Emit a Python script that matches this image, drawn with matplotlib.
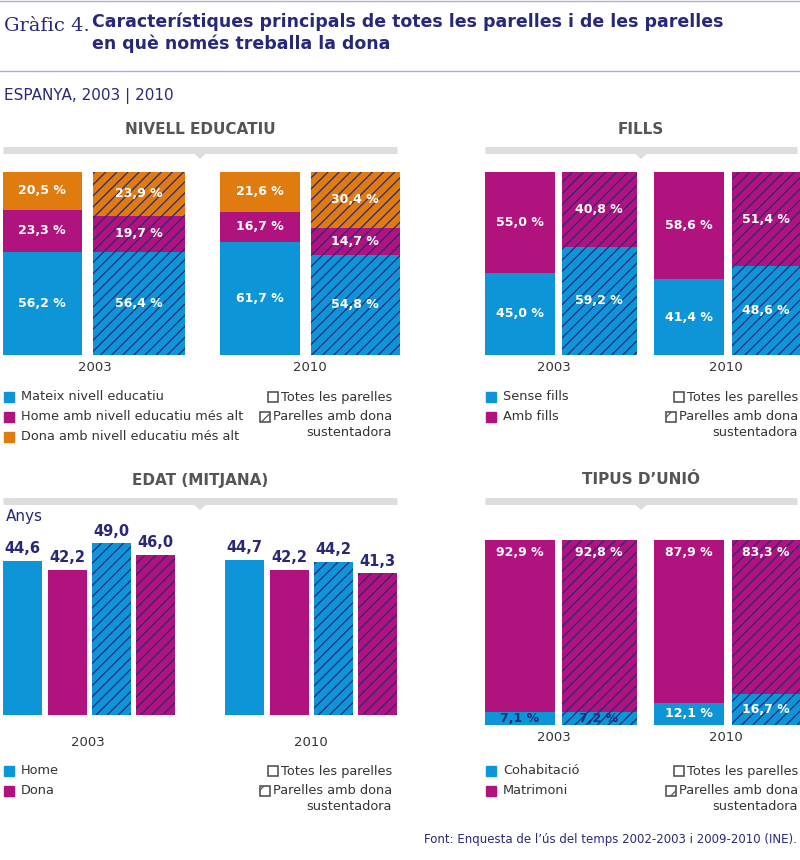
import numpy as np
import matplotlib.pyplot as plt
from matplotlib.patches import Rectangle, Polygon

BLUE = '#0e95d8'
MAG = '#b1137e'
ORA = '#e07b10'
NAVY = '#28287a'
GREY = '#555555'

# data
years = ['2003', '2010']
edu_same = [56.2, 56.4, 61.7, 54.8]
edu_man = [23.3, 19.7, 16.7, 14.7]
edu_woman = [20.5, 23.9, 21.6, 30.4]
fills_no = [45.0, 59.2, 41.4, 48.6]
fills_yes = [55.0, 40.8, 58.6, 51.4]
age_home = [44.6, 49.0, 44.7, 44.2]
age_dona = [42.2, 46.0, 42.2, 41.3]
coh = [7.1, 7.2, 12.1, 16.7]
mat = [92.9, 92.8, 87.9, 83.3]
hatched = [False, True, False, True]

HATCH = '///'
plt.rcParams['hatch.color'] = NAVY
plt.rcParams['hatch.linewidth'] = 0.9
plt.rcParams['font.family'] = ['DejaVu Sans']

W, H = 800, 860
fig = plt.figure(figsize=(8, 8.6), dpi=100)


def pax(x0, y0, x1, y1):
    # axes from pixel box (top-left origin)
    ax = fig.add_axes([x0 / W, 1 - y1 / H, (x1 - x0) / W, (y1 - y0) / H])
    ax.set_xlim(x0, x1)
    ax.axis('off')
    return ax


def fmt(v):
    return f'{v:.1f}'.replace('.', ',')


# page overlay axes
bg = fig.add_axes([0, 0, 1, 1])
bg.set_xlim(0, W)
bg.set_ylim(H, 0)
bg.axis('off')
bg.plot([0, 800], [1, 1], color='#b0acd0', lw=1)
bg.plot([0, 800], [71, 71], color='#b0acd0', lw=1)
bg.text(4, 26, 'Gràfic 4.', fontsize=14, family='DejaVu Serif', color=NAVY, va='center')
bg.text(92, 33, 'Característiques principals de totes les parelles i de les parelles\nen què només treballa la dona',
        fontsize=12.5, fontweight='bold', color=NAVY, va='center', linespacing=1.25)
bg.text(4, 96, 'ESPANYA, 2003 | 2010', fontsize=11, color=NAVY, va='center')


def header(x0, x1, y, title):
    bg.text((x0 + x1) / 2, y, title, fontsize=11, fontweight='bold', color=GREY, ha='center', va='center')
    bg.plot([x0, x1], [y + 21, y + 21], color='#dddddd', lw=5, solid_capstyle='butt')
    xc = (x0 + x1) / 2
    bg.add_patch(Polygon([[xc - 8, y + 23], [xc + 8, y + 23], [xc, y + 30]], color='#dddddd', lw=0))


header(3, 397, 129, 'NIVELL EDUCATIU')
header(485, 797, 129, 'FILLS')
header(3, 397, 480, 'EDAT (MITJANA)')
header(485, 797, 480, 'TIPUS D\u2019UNIÓ')
bg.text(6, 517, 'Anys', fontsize=11, color=NAVY, va='center')
bg.text(797, 840, 'Font: Enquesta de l\u2019ús del temps 2002-2003 i 2009-2010 (INE).',
        fontsize=8.5, color=NAVY, ha='right', va='center')


def legend(x, y, items, right_end):
    for i, (lab, c) in enumerate(items):
        yy = y + i * 20
        bg.add_patch(Rectangle((x, yy - 5), 10, 10, color=c))
        bg.text(x + 17, yy, lab, fontsize=9.3, color='#333333', va='center')
    bx = right_end - 124
    bg.add_patch(Rectangle((bx, y - 5), 10, 10, fill=False, ec='#555555', lw=1.2))
    bg.text(right_end, y, 'Totes les parelles', fontsize=9.3, color='#333333', va='center', ha='right')
    bg.add_patch(Rectangle((bx - 8, y + 15), 10, 10, fill=False, ec='#555555', lw=1.2, hatch='//'))
    bg.text(right_end, y + 20, 'Parelles amb dona', fontsize=9.3, color='#333333', va='center', ha='right')
    bg.text(right_end, y + 35, 'sustentadora', fontsize=9.3, color='#333333', va='center', ha='right')


legend(4, 397, [('Mateix nivell educatiu', BLUE), ('Home amb nivell educatiu més alt', MAG),
                ('Dona amb nivell educatiu més alt', ORA)], 392)
legend(486, 397, [('Sense fills', BLUE), ('Amb fills', MAG)], 798)
legend(4, 771, [('Home', BLUE), ('Dona', MAG)], 392)
legend(486, 771, [('Cohabitació', BLUE), ('Matrimoni', MAG)], 798)


def stacked(x0, x1, y0, y1, centers, widths, segs, ylab, year_c):
    ax = pax(x0, y0, x1, y1 + 25)
    ax.set_ylim(-100 * 25 / (y1 - y0), 100)
    for i, (c, w) in enumerate(zip(centers, widths)):
        bottom = 0
        for vals, col in segs:
            v = vals[i]
            ax.bar(c, v, w, bottom=bottom, color=col, lw=0,
                   hatch=HATCH if hatched[i] else None)
            ax.text(c, bottom + v / 2, fmt(v) + ' %', ha='center', va='center', color='white',
                    fontsize=9, fontweight='bold')
            bottom += v
    for yr, yc in zip(years, year_c):
        ax.text(yc, ylab, yr, ha='center', va='center', fontsize=9.5, color='#333333')
    return ax


stacked(0, 400, 172, 355, [42, 139, 260, 355], [79, 92, 80, 89],
        [(edu_same, BLUE), (edu_man, MAG), (edu_woman, ORA)], -7, [95, 310])
stacked(482, 800, 172, 355, [520, 599, 689, 766], [70, 75, 70, 68],
        [(fills_no, BLUE), (fills_yes, MAG)], -7, [554, 726])

# Tipus d'unio: small cohabitation labels sit in the blue strip
ax = pax(482, 540, 800, 750)
ax.set_ylim(-100 * 25 / 185, 100)
for i, (c, w) in enumerate(zip([520, 599, 689, 766], [70, 75, 70, 68])):
    ax.bar(c, coh[i], w, color=BLUE, lw=0, hatch=HATCH if hatched[i] else None)
    ax.bar(c, mat[i], w, bottom=coh[i], color=MAG, lw=0, hatch=HATCH if hatched[i] else None)
    ax.text(c, coh[i] / 2, fmt(coh[i]) + ' %', ha='center', va='center', color=NAVY if coh[i] < 10 else 'white',
            fontsize=9, fontweight='bold')
    ax.text(c, 93, fmt(mat[i]) + ' %', ha='center', va='center', color='white', fontsize=9, fontweight='bold')
for yr, yc in zip(years, [554, 726]):
    ax.text(yc, -7, yr, ha='center', va='center', fontsize=9.5, color='#333333')

# Edat
ax = pax(0, 520, 400, 750)
base = 5.0
scale = (715 - 520) / 3.9
ax.set_ylim(base - 35 / 3.9, base + scale)
ages = [age_home[0], age_dona[0], age_home[1], age_dona[1], age_home[2], age_dona[2], age_home[3], age_dona[3]]
cols = [BLUE, MAG] * 4
hat = [False, False, True, True, False, False, True, True]
cents = [22, 67, 111, 155, 244, 289, 333, 377]
for a, c, col, h in zip(ages, cents, cols, hat):
    ax.bar(c, a - base, 39, bottom=base, color=col, lw=0, hatch=HATCH if h else None)
    ax.text(c, a + 1.2, fmt(a), ha='center', va='bottom', color=NAVY, fontsize=10.5, fontweight='bold')
for yr, yc in zip(years, [88, 311]):
    ax.text(yc, base - 27 / 3.9, yr, ha='center', va='center', fontsize=9.5, color='#333333')

fig.savefig('out.png', dpi=100)
